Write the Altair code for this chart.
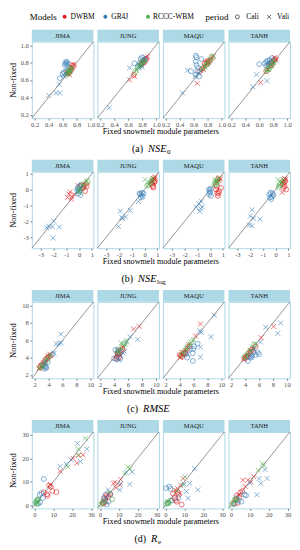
import altair as alt
import pandas as pd

SERIF = "Liberation Serif, Times New Roman, serif"
STATIONS = ["JIMA", "JUNG", "MAQU", "TANH"]
MODELS = ["DWBM", "GR4J", "RCCC-WBM"]
PERIODS = ["Cali", "Vali"]
MODEL_COLORS = ["#E41A1C", "#377EB8", "#4DAF4A"]
X_SHAPE = "M-1,-1L1,1M-1,1L1,-1"

# ---------------- axis settings per metric ----------------
NSE0_DOMAIN = [0.16, 1.04]
NSE0_TICKS = [0.2, 0.4, 0.6, 0.8, 1.0]
NSELOG_DOMAIN = [-3.7, 1.12]
NSELOG_TICKS = [-3, -2, -1, 0, 1]
RMSE_DOMAIN = [1.6, 10.45]
RMSE_TICKS = [2, 4, 6, 8, 10]
RE_DOMAIN = [-1.35, 31.3]
RE_TICKS = [0, 10, 20, 30]

# ---------------- data: {model: (Cali points, Vali points)} ----------------
NSE0_JIMA = {
    "DWBM": ([(0.74, 0.77), (0.72, 0.74), (0.70, 0.71), (0.69, 0.68), (0.73, 0.72), (0.76, 0.76), (0.68, 0.69)],
             [(0.75, 0.78), (0.71, 0.70), (0.67, 0.67), (0.70, 0.66), (0.73, 0.74), (0.66, 0.68)]),
    "GR4J": ([(0.64, 0.80), (0.66, 0.81), (0.65, 0.78), (0.67, 0.79), (0.63, 0.77), (0.62, 0.69), (0.60, 0.67), (0.56, 0.62), (0.65, 0.70), (0.68, 0.72)],
             [(0.40, 0.42), (0.51, 0.45), (0.56, 0.45), (0.55, 0.55), (0.63, 0.64), (0.66, 0.79), (0.61, 0.66)]),
    "RCCC-WBM": ([(0.69, 0.70), (0.71, 0.72), (0.67, 0.67), (0.72, 0.73), (0.70, 0.69)],
                 [(0.68, 0.68), (0.70, 0.71), (0.66, 0.66), (0.73, 0.74)]),
}
NSE0_JUNG = {
    "DWBM": ([(0.82, 0.81), (0.84, 0.83), (0.80, 0.79), (0.86, 0.84), (0.78, 0.78), (0.68, 0.66), (0.83, 0.80)],
             [(0.62, 0.60), (0.69, 0.64), (0.85, 0.86), (0.88, 0.87), (0.81, 0.82), (0.79, 0.77)]),
    "GR4J": ([(0.69, 0.79), (0.78, 0.84), (0.80, 0.86), (0.82, 0.83), (0.77, 0.80), (0.84, 0.84), (0.79, 0.78), (0.74, 0.76)],
             [(0.33, 0.28), (0.62, 0.74), (0.76, 0.74), (0.80, 0.75), (0.85, 0.82)]),
    "RCCC-WBM": ([(0.70, 0.69), (0.74, 0.74), (0.77, 0.77), (0.80, 0.80), (0.83, 0.82)],
                 [(0.72, 0.71), (0.76, 0.76), (0.79, 0.78), (0.82, 0.81)]),
}
NSE0_MAQU = {
    "DWBM": ([(0.78, 0.80), (0.80, 0.82), (0.82, 0.81), (0.76, 0.79), (0.84, 0.83), (0.79, 0.78), (0.69, 0.70), (0.72, 0.73)],
             [(0.65, 0.56), (0.86, 0.86), (0.88, 0.87), (0.75, 0.76), (0.81, 0.80), (0.74, 0.72)]),
    "GR4J": ([(0.63, 0.88), (0.64, 0.86), (0.63, 0.81), (0.64, 0.77), (0.71, 0.84), (0.56, 0.70), (0.65, 0.70), (0.68, 0.64), (0.63, 0.66), (0.66, 0.74)],
             [(0.44, 0.45), (0.51, 0.71), (0.67, 0.67), (0.62, 0.64), (0.70, 0.70)]),
    "RCCC-WBM": ([(0.78, 0.77), (0.82, 0.82), (0.86, 0.86), (0.74, 0.74), (0.80, 0.79)],
                 [(0.76, 0.75), (0.84, 0.84), (0.88, 0.88), (0.79, 0.78), (0.72, 0.72)]),
}
NSE0_TANH = {
    "DWBM": ([(0.76, 0.79), (0.79, 0.81), (0.81, 0.83), (0.78, 0.77), (0.83, 0.84), (0.74, 0.76), (0.70, 0.70)],
             [(0.62, 0.57), (0.80, 0.80), (0.82, 0.86), (0.77, 0.78), (0.84, 0.83), (0.72, 0.72)]),
    "GR4J": ([(0.60, 0.78), (0.68, 0.79), (0.70, 0.81), (0.72, 0.82), (0.75, 0.83), (0.77, 0.80), (0.73, 0.78), (0.78, 0.85), (0.70, 0.76)],
             [(0.56, 0.66), (0.51, 0.52), (0.71, 0.59), (0.74, 0.79), (0.79, 0.82)]),
    "RCCC-WBM": ([(0.72, 0.72), (0.76, 0.75), (0.79, 0.79), (0.81, 0.81), (0.74, 0.73)],
                 [(0.73, 0.72), (0.77, 0.77), (0.80, 0.80), (0.70, 0.69)]),
}

NSELOG_JIMA = {
    "DWBM": ([(0.27, 0.06), (0.60, 0.20), (0.47, -0.10), (0.35, 0.15), (0.55, 0.35), (0.40, 0.25), (0.20, 0.25)],
             [(-0.78, -0.29), (-0.90, -0.50), (-0.60, -0.60), (-0.70, -0.15), (-0.40, -0.30), (-0.10, 0.25), (-0.55, -0.45)]),
    "GR4J": ([(-0.10, 0.10), (0.00, -0.10), (0.05, 0.20), (-0.05, -0.25), (0.10, -0.35), (0.02, 0.05), (-0.15, -0.05), (0.12, 0.30)],
             [(-2.54, -2.41), (-2.10, -2.34), (-1.98, -2.00), (-1.55, -2.36), (-2.03, -3.06), (-2.40, -2.30), (-0.10, -0.15)]),
    "RCCC-WBM": ([(0.68, 0.49), (0.09, -0.09), (0.20, 0.15), (0.45, 0.40)],
                 [(0.00, -0.05), (-0.10, -0.15), (0.30, 0.25), (0.60, 0.55)]),
}
NSELOG_JUNG = {
    "DWBM": ([(0.68, 0.12), (0.60, 0.30), (0.75, 0.45), (0.70, 0.60), (0.80, 0.50), (0.65, 0.20), (0.55, 0.40)],
             [(0.70, 0.70), (0.75, 0.65), (0.80, 0.75), (0.65, 0.55), (0.85, 0.80), (0.60, 0.50)]),
    "GR4J": ([(-0.35, -0.30), (-0.25, -0.35), (-0.10, -0.25), (-0.30, -0.50), (-0.20, -0.20), (-0.40, -0.25), (-0.15, -0.45)],
             [(-1.90, -1.36), (-2.04, -2.34), (-1.72, -1.83), (-1.50, -1.73), (-1.12, -1.32), (-0.48, -0.76), (-1.80, -1.75)]),
    "RCCC-WBM": ([(0.30, 0.32), (0.45, 0.40), (0.55, 0.55), (0.20, 0.25)],
                 [(0.04, 0.63), (0.56, 0.63), (0.40, 0.45), (0.65, 0.70)]),
}
NSELOG_MAQU = {
    "DWBM": ([(0.46, 0.00), (0.55, -0.20), (0.60, -0.40), (0.70, -0.10), (0.85, 0.10), (0.50, 0.20), (0.65, -0.25)],
             [(0.58, 0.60), (0.65, 0.70), (0.75, 0.75), (0.70, 0.55), (0.80, 0.65), (0.55, 0.45)]),
    "GR4J": ([(-0.10, 0.00), (0.00, -0.20), (0.06, -0.40), (-0.05, -0.10), (0.03, 0.05), (-0.08, -0.30)],
             [(-0.88, -0.90), (-0.75, -1.20), (-0.62, -1.10), (-0.81, -1.38), (-1.10, -1.10), (-0.70, -0.75)]),
    "RCCC-WBM": ([(0.45, 0.32), (0.50, 0.45), (0.35, 0.35), (0.60, 0.60)],
                 [(0.33, 0.63), (0.55, 0.55), (0.70, 0.72), (0.45, 0.50)]),
}
NSELOG_TANH = {
    "DWBM": ([(0.57, 0.32), (0.70, 0.20), (0.82, 0.00), (0.65, 0.45), (0.75, 0.55), (0.60, 0.10)],
             [(0.50, -0.19), (0.62, 0.60), (0.70, 0.70), (0.78, 0.65), (0.66, 0.50), (0.55, 0.45)]),
    "GR4J": ([(-0.50, -0.30), (-0.40, -0.20), (-0.30, -0.45), (-0.18, -0.35), (-0.35, -0.60), (-0.25, -0.25), (-0.45, -0.50)],
             [(-1.85, -1.28), (-1.98, -1.67), (-1.72, -1.83), (-1.22, -1.87), (-2.06, -2.24), (-1.85, -2.28)]),
    "RCCC-WBM": ([(0.24, 0.16), (0.35, 0.35), (0.50, 0.50), (0.30, 0.28)],
                 [(0.19, 0.63), (0.45, 0.45), (0.60, 0.62)]),
}

RMSE_JIMA = {
    "DWBM": ([(2.8, 2.9), (3.1, 3.2), (3.4, 3.5), (3.8, 3.9), (4.0, 4.1), (4.3, 4.2), (2.9, 3.1), (3.6, 3.8)],
             [(2.6, 2.7), (3.0, 2.9), (3.3, 3.4), (3.9, 4.2), (4.2, 4.4), (3.5, 3.3)]),
    "GR4J": ([(3.5, 3.0), (3.7, 2.8), (3.4, 2.7), (3.6, 2.9), (3.3, 3.1), (3.9, 3.5), (4.6, 4.4)],
             [(5.8, 6.7), (5.1, 5.6), (5.5, 5.6), (5.8, 5.7), (4.8, 4.5), (3.5, 3.6)]),
    "RCCC-WBM": ([(2.9, 2.9), (3.2, 3.2), (3.6, 3.6), (4.0, 4.0)],
                 [(2.7, 2.8), (3.1, 3.0), (3.8, 3.8), (4.2, 4.3)]),
}
RMSE_JUNG = {
    "DWBM": ([(4.4, 4.1), (4.6, 4.3), (4.8, 4.6), (5.0, 4.8), (4.3, 3.9), (4.7, 4.0), (5.2, 5.0), (4.5, 4.5)],
             [(6.8, 7.3), (7.6, 7.6), (4.4, 4.4), (4.9, 4.2), (5.3, 5.2), (4.6, 4.8)]),
    "GR4J": ([(4.2, 4.9), (4.5, 4.6), (4.8, 4.4), (4.4, 3.8), (4.0, 3.9), (4.9, 3.9), (4.6, 4.9)],
             [(7.4, 6.1), (6.3, 6.4), (5.5, 4.7), (5.3, 4.5), (5.8, 5.8), (4.7, 3.7)]),
    "RCCC-WBM": ([(4.8, 4.8), (5.2, 5.3), (5.5, 5.6), (4.5, 4.6)],
                 [(5.0, 5.7), (5.6, 5.5), (4.6, 4.7), (5.8, 6.0)]),
}
RMSE_MAQU = {
    "DWBM": ([(4.2, 4.2), (4.5, 4.4), (4.8, 4.6), (5.1, 5.0), (4.0, 4.3), (4.4, 4.1), (5.4, 5.3), (4.6, 4.5)],
             [(7.0, 7.9), (4.3, 4.6), (4.9, 4.8), (5.3, 5.5), (6.3, 6.5), (4.1, 4.0)]),
    "GR4J": ([(6.1, 5.3), (5.9, 4.5), (5.9, 3.6), (5.1, 4.0), (5.5, 5.0), (6.6, 5.6), (4.9, 4.4), (6.0, 5.0)],
             [(9.0, 8.9), (6.9, 7.1), (7.1, 6.9), (8.5, 6.4), (7.0, 5.2), (7.0, 4.05), (5.2, 4.4)]),
    "RCCC-WBM": ([(4.3, 4.3), (4.7, 4.8), (5.2, 5.3), (5.7, 5.8)],
                 [(4.5, 4.6), (5.0, 5.1), (5.5, 5.6), (6.0, 6.1)]),
}
RMSE_TANH = {
    "DWBM": ([(3.9, 3.9), (4.1, 4.1), (4.3, 4.2), (4.6, 4.5), (4.8, 4.7), (5.0, 4.9), (4.2, 4.0), (5.5, 5.3)],
             [(8.1, 7.6), (6.3, 6.3), (4.4, 4.3), (4.8, 4.8), (5.2, 5.0), (3.8, 3.8)]),
    "GR4J": ([(5.2, 4.6), (5.5, 4.3), (6.0, 4.4), (4.8, 4.0), (5.0, 4.2), (4.6, 4.1), (4.4, 3.6), (5.8, 4.6)],
             [(6.95, 7.5), (8.7, 6.8), (9.1, 8.0), (6.2, 5.8), (5.3, 5.0), (4.9, 4.0)]),
    "RCCC-WBM": ([(4.0, 4.1), (4.5, 4.6), (5.0, 5.1), (5.3, 5.5)],
                 [(4.2, 4.3), (4.7, 4.8), (5.4, 5.6), (3.9, 4.0)]),
}

RE_JIMA = {
    "DWBM": ([(7.8, 8.4), (8.7, 7.9), (6.7, 4.7), (9.5, 6.1), (11.7, 5.6), (7.0, 4.0), (5.0, 5.5)],
             [(13.7, 14.5), (22.5, 18.0), (25.8, 21.5), (23.3, 21.2), (8.5, 8.8), (20.5, 20.0)]),
    "GR4J": ([(5.0, 11.2), (2.8, 4.5), (3.7, 5.2), (4.5, 3.1), (2.0, 0.6), (1.5, 2.0), (3.0, 1.2)],
             [(13.7, 16.6), (22.8, 26.4), (27.8, 24.0), (24.5, 18.7), (19.5, 19.4), (17.0, 17.5)]),
    "RCCC-WBM": ([(1.0, 1.5), (1.5, 2.3), (2.0, 2.5), (1.2, 0.5), (0.8, 1.0)],
                 [(27.0, 28.6), (23.3, 24.0), (17.8, 16.3), (1.8, 1.2), (23.5, 21.5)]),
}
RE_JUNG = {
    "DWBM": ([(2.5, 3.0), (3.0, 1.5), (2.0, 0.8), (3.5, 4.2), (4.5, 3.8), (5.5, 4.8), (1.5, 1.0)],
             [(7.2, 9.3), (10.6, 8.6), (8.5, 7.5), (11.0, 11.0), (8.0, 9.8), (3.0, 3.5)]),
    "GR4J": ([(2.0, 3.0), (3.0, 4.5), (3.5, 0.3), (2.5, 2.0), (5.5, 4.5), (4.5, 1.5)],
             [(17.1, 14.2), (11.0, 9.3), (15.8, 8.9), (4.3, 6.6), (14.0, 14.0), (10.5, 6.5)]),
    "RCCC-WBM": ([(0.5, 0.3), (1.2, 1.0), (2.0, 1.5), (6.5, 2.5)],
                 [(14.9, 16.3), (13.2, 13.5), (16.0, 15.5), (5.0, 5.5)]),
}
RE_MAQU = {
    "DWBM": ([(4.0, 5.0), (5.0, 3.0), (6.0, 1.5), (7.0, 4.5), (8.6, 0.3), (5.5, 2.2), (6.5, 5.5)],
             [(9.4, 11.4), (6.5, 7.0), (7.5, 5.0), (5.0, 6.5), (8.0, 8.5)]),
    "GR4J": ([(0.3, 7.3), (2.0, 8.0), (2.6, 7.0), (6.9, 3.1), (3.5, 2.0), (1.5, 1.0)],
             [(15.4, 15.6), (11.1, 5.9), (12.9, 9.3), (17.2, 6.6), (12.0, 3.0), (10.0, 9.0)]),
    "RCCC-WBM": ([(0.5, 0.5), (1.0, 1.2), (1.5, 0.8), (2.5, 2.0)],
                 [(10.3, 12.1), (9.4, 8.6), (6.0, 6.2), (1.2, 1.5)]),
}
RE_TANH = {
    "DWBM": ([(2.5, 2.4), (3.5, 1.0), (4.5, 3.5), (5.0, 5.5), (3.0, 4.0), (1.5, 0.8), (6.0, 6.0)],
             [(6.3, 10.7), (8.9, 10.7), (10.6, 10.0), (7.5, 8.0), (4.0, 4.5), (12.0, 12.3)]),
    "GR4J": ([(7.2, 4.5), (4.0, 2.0), (5.5, 1.5), (3.0, 3.0), (8.0, 4.2), (2.0, 0.5)],
             [(18.0, 15.3), (19.2, 11.4), (14.9, 11.4), (15.8, 9.3), (13.7, 4.5), (10.0, 9.5)]),
    "RCCC-WBM": ([(2.0, 2.4), (1.0, 1.0), (3.0, 2.5), (0.5, 0.3)],
                 [(16.6, 17.7), (17.5, 17.0), (14.5, 15.0), (2.5, 2.0)]),
}

# ---------------- layout constants ----------------
W, H = 62, 77
GAP = 4
STRIP = 12
TOT = 4 * W + 3 * GAP
STRIP_FILL = "#ADD8E6"
DUMMY = pd.DataFrame({"k": [0]})
LEG_Y = -25


def to_frame(by_station):
    rows = []
    for st, d in by_station.items():
        for m, (cali, vali) in d.items():
            for per, pts in (("Cali", cali), ("Vali", vali)):
                for x, y in pts:
                    rows.append({"station": st, "model": m, "period": per, "x": x, "y": y})
    return pd.DataFrame(rows)


def txt(text, x, y, size, **kw):
    return alt.Chart(DUMMY).mark_text(text=text, font=SERIF, fontSize=size, color="#000000", **kw).encode(
        x=alt.value(x), y=alt.value(y))


def sym(x, y, shape, color, filled, size):
    return alt.Chart(DUMMY).mark_point(shape=shape, color=color, filled=filled, size=size, opacity=1,
                                       strokeWidth=0.9).encode(x=alt.value(x), y=alt.value(y))


def spacer(top, bottom):
    return alt.Chart(DUMMY).mark_rect(fill="#FFFFFF", opacity=0).encode(
        x=alt.value(0), x2=alt.value(W), y=alt.value(top), y2=alt.value(bottom))


def legend_layers():
    return [
        txt("Models", -2, LEG_Y, 9, align="left"),
        sym(33, LEG_Y, "circle", MODEL_COLORS[0], True, 16), txt("DWBM", 39, LEG_Y, 7.5, align="left"),
        sym(74, LEG_Y, "circle", MODEL_COLORS[1], True, 16), txt("GR4J", 80, LEG_Y, 7.5, align="left"),
        sym(117, LEG_Y, "circle", MODEL_COLORS[2], True, 16), txt("RCCC-WBM", 122, LEG_Y, 7.5, align="left"),
        txt("period", 175, LEG_Y, 9, align="left"),
        sym(207, LEG_Y, "circle", "#555555", False, 16), txt("Cali", 216, LEG_Y, 7.5, align="left"),
        sym(239, LEG_Y, X_SHAPE, "#555555", False, 16), txt("Vali", 247, LEG_Y, 7.5, align="left"),
    ]


def caption_layers(tag, main, sub, x_tag, w_main):
    layers = [txt("Fixed snowmelt module parameters", TOT / 2, H + 14, 8.2),
              txt(tag, x_tag, H + 31, 10, align="right"),
              txt(main, x_tag + 5, H + 31, 10.5, align="left", fontStyle="italic")]
    if sub:
        layers.append(txt(sub, x_tag + 5 + w_main, H + 34, 7, align="left"))
    return layers


def panel(df, station, dom, ticks, lab, extra):
    sc = alt.Scale(domain=dom, nice=False, zero=False)
    common = dict(values=ticks, labelExpr=lab, tickSize=2, tickWidth=0.6, tickColor="#333333",
                  labelFont=SERIF, labelFontSize=6.6, labelColor="#4D4D4D", labelPadding=1.5,
                  labelFlush=False, domain=False, grid=False)
    xax = alt.Axis(title=None, **common)
    if extra:
        yax = alt.Axis(title="Non-fixed", titleFont=SERIF, titleFontSize=8.5, titleFontWeight="normal",
                       titleColor="#000000", titlePadding=2, minExtent=12, maxExtent=12, **common)
    else:
        yax = None
    sub = df[df.station == station]
    diag = alt.Chart(pd.DataFrame({"x": [dom[0]], "y": [dom[0]], "x2": [dom[1]], "y2": [dom[1]]})).mark_rule(
        color="#4D4D4D", strokeWidth=0.6).encode(
        x=alt.X("x:Q", scale=sc, axis=xax), y=alt.Y("y:Q", scale=sc, axis=yax), x2="x2:Q", y2="y2:Q")
    pts = alt.Chart(sub).mark_point(filled=False, size=24, strokeWidth=0.85, opacity=0.7).encode(
        x=alt.X("x:Q", scale=sc, axis=xax),
        y=alt.Y("y:Q", scale=sc, axis=yax),
        color=alt.Color("model:N", scale=alt.Scale(domain=MODELS, range=MODEL_COLORS), legend=None),
        shape=alt.Shape("period:N", scale=alt.Scale(domain=PERIODS, range=["circle", X_SHAPE]), legend=None),
    )
    sdf = pd.DataFrame({"station": [station]})
    strip_bg = alt.Chart(sdf).mark_rect(color=STRIP_FILL).encode(
        x=alt.value(0), x2=alt.value(W), y=alt.value(-STRIP), y2=alt.value(0))
    strip_tx = alt.Chart(sdf).mark_text(font=SERIF, fontSize=6.6, color="#1A1A1A").encode(
        x=alt.value(W / 2), y=alt.value(-STRIP / 2), text="station:N")
    layers = [diag, pts, strip_bg, strip_tx] + (extra or [])
    return alt.layer(*layers).properties(
        width=W, height=H, view=alt.ViewBackground(stroke=STRIP_FILL, strokeWidth=1))


def row(df, dom, ticks, lab, extra):
    panels = [panel(df, s, dom, ticks, lab, extra if i == 0 else None) for i, s in enumerate(STATIONS)]
    return alt.hconcat(*panels, spacing=GAP, bounds="flush")


LAB_1F = "format(datum.value, '.1f')"
LAB_INT = "datum.value < 0 ? '-' + format(-datum.value, 'd') : format(datum.value, 'd')"

df_nse0 = to_frame({"JIMA": NSE0_JIMA, "JUNG": NSE0_JUNG, "MAQU": NSE0_MAQU, "TANH": NSE0_TANH})
df_nselog = to_frame({"JIMA": NSELOG_JIMA, "JUNG": NSELOG_JUNG, "MAQU": NSELOG_MAQU, "TANH": NSELOG_TANH})
df_rmse = to_frame({"JIMA": RMSE_JIMA, "JUNG": RMSE_JUNG, "MAQU": RMSE_MAQU, "TANH": RMSE_TANH})
df_re = to_frame({"JIMA": RE_JIMA, "JUNG": RE_JUNG, "MAQU": RE_MAQU, "TANH": RE_TANH})

row1 = row(df_nse0, NSE0_DOMAIN, NSE0_TICKS, LAB_1F,
           [spacer(-31, H + 40)] + legend_layers() + caption_layers("(a)", "NSE", "0", 112, 19))
row2 = row(df_nselog, NSELOG_DOMAIN, NSELOG_TICKS, LAB_INT,
           [spacer(-STRIP, H + 40)] + caption_layers("(b)", "NSE", "log", 102, 19))
row3 = row(df_rmse, RMSE_DOMAIN, RMSE_TICKS, LAB_INT,
           [spacer(-STRIP, H + 40)] + caption_layers("(c)", "RMSE", "", 107, 28))
row4 = row(df_re, RE_DOMAIN, RE_TICKS, LAB_INT,
           [spacer(-STRIP, H + 38)] + caption_layers("(d)", "R", "e", 115, 7))

chart = alt.vconcat(row1, row2, row3, row4, spacing=0).properties(padding=0).configure(font=SERIF)

chart.save("out.html", embed_options={"renderer": "svg", "actions": False})
